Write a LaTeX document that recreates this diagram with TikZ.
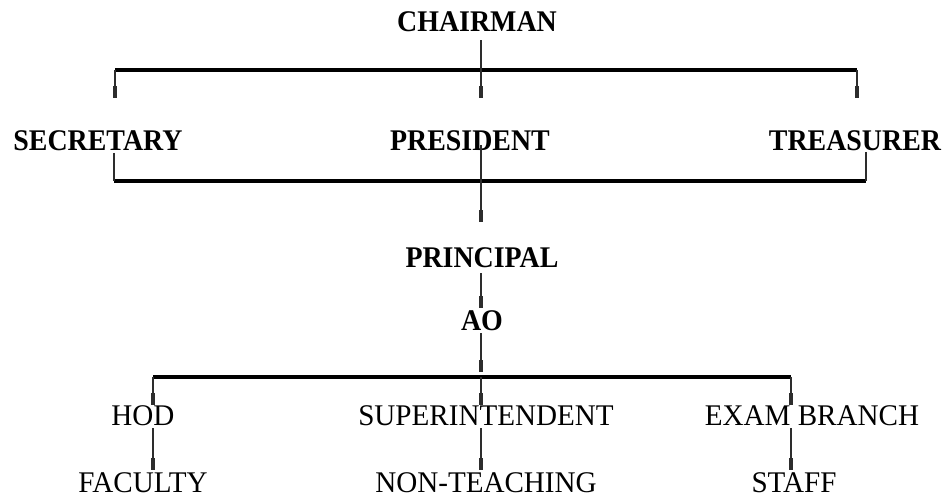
\documentclass[tikz,border=0pt]{standalone}
\usepackage{fontspec}
\setmainfont{Liberation Serif}
\newfontfamily\chefefont[FakeStretch=0.93]{Liberation Serif}
\newfontfamily\setorfont[FakeStretch=0.97]{Liberation Serif}
\usetikzlibrary{arrows.meta}

\begin{document}
\begin{tikzpicture}[x=1pt,y=-1pt]
% Definição de estilos
\tikzset{
  chefe/.style={inner sep=0pt, anchor=base, font=\chefefont\fontsize{30}{32}\selectfont\bfseries},
  setor/.style={inner sep=0pt, anchor=base, font=\setorfont\fontsize{30}{32}\selectfont},
  barra/.style={line width=3.2pt, black},
  haste/.style={line width=1.1pt, gray!35!black},
  ligacao/.style={haste, -{Rectangle[length=12pt,width=3.2pt]}}
}
\useasboundingbox (0,0) rectangle (948,497);

% Direção
\node[chefe] (chairman) at (477,32) {CHAIRMAN};
\node[chefe] (secretary) at (98,151) {SECRETARY};
\node[chefe] (president) at (470,151) {PRESIDENT};
\node[chefe] (treasurer) at (855,151) {TREASURER};
\node[chefe] (principal) at (482,268) {PRINCIPAL};
\node[chefe] (ao) at (482,330) {AO};

% Setores
\node[setor] (hod) at (143,425) {HOD};
\node[setor] (superint) at (486,425) {SUPERINTENDENT};
\node[setor] (exam) at (812,425) {EXAM BRANCH};
\node[setor] (faculty) at (143,492) {FACULTY};
\node[setor] (nonteach) at (486,492) {NON-TEACHING};
\node[setor] (staff) at (794,492) {STAFF};

% Barras
\coordinate (topL) at (115,70);
\coordinate (topM) at (481,70);
\coordinate (topR) at (857,70);
\coordinate (midL) at (114,181);
\coordinate (midM) at (481,181);
\coordinate (midR) at (866,181);
\coordinate (lowL) at (153,377);
\coordinate (lowM) at (481,377);
\coordinate (lowR) at (791,377);
\draw[barra] (topL) -- (topR);
\draw[barra] (midL) -- (midR);
\draw[barra] (lowL) -- (lowR);

% Ligações
\draw[haste, shorten <=8pt] (chairman.south -| topM) -- (topM);
\draw[ligacao, shorten >=33pt] (topL) -- (topL |- secretary.north);
\draw[ligacao, shorten >=33pt] (topM) -- (topM |- president.north);
\draw[ligacao, shorten >=33pt] (topR) -- (topR |- treasurer.north);
\draw[haste, shorten <=2pt] (secretary.base -| midL) -- (midL);
\draw[haste, shorten <=1pt] (treasurer.base -| midR) -- (midR);
\draw[ligacao, shorten <=-6pt, shorten >=26pt] (president.base -| midM) -- (principal.north -| midM);
\draw[ligacao, shorten <=5pt, shorten >=2pt] (principal.south -| midM) -- (ao.north -| midM);
\draw[ligacao, shorten <=3pt, shorten >=5pt] (ao.south -| lowM) -- (lowM);
\draw[ligacao] (lowL) -- (lowL |- hod.north);
\draw[ligacao] (lowM) -- (lowM |- superint.north);
\draw[ligacao] (lowR) -- (lowR |- exam.north);
\draw[ligacao, shorten <=3pt, shorten >=2pt] (hod.south -| lowL) -- (lowL |- faculty.north);
\draw[ligacao, shorten <=3pt, shorten >=2pt] (superint.south -| lowM) -- (lowM |- nonteach.north);
\draw[ligacao, shorten <=3pt, shorten >=2pt] (exam.south -| lowR) -- (lowR |- staff.north);

\end{tikzpicture}
\end{document}
